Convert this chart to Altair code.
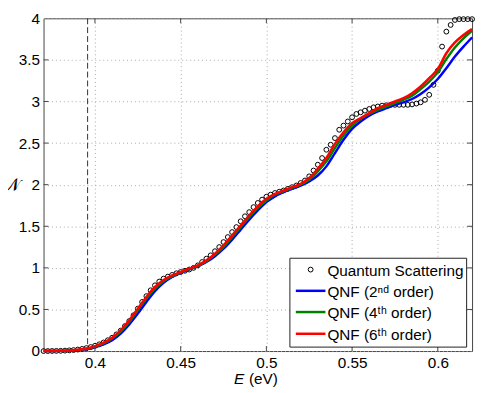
import altair as alt
import pandas as pd

# ---------------- data ----------------
# Quantum scattering points, E = 0.37 ... 0.62 step 0.0025
qs_E = [round(0.37 + 0.0025 * i, 4) for i in range(101)]
qs_N = [
    0.0, 0.0, 0.001, 0.002, 0.003, 0.005, 0.008, 0.012, 0.018, 0.026,
    0.036, 0.048, 0.063, 0.081, 0.103, 0.13, 0.16, 0.20, 0.245, 0.30,
    0.36, 0.43, 0.51, 0.59, 0.66, 0.73, 0.79, 0.835, 0.87, 0.895,
    0.915, 0.935, 0.95, 0.965, 0.98, 1.00, 1.03, 1.07, 1.11, 1.15,
    1.20, 1.25, 1.31, 1.37, 1.43, 1.49, 1.56, 1.62, 1.67, 1.73,
    1.78, 1.82, 1.855, 1.88, 1.90, 1.915, 1.93, 1.95, 1.97, 1.99,
    2.02, 2.05, 2.10, 2.17, 2.24, 2.32, 2.42, 2.48, 2.56, 2.66,
    2.71, 2.76, 2.81, 2.85, 2.87, 2.89, 2.91, 2.93, 2.94, 2.95,
    2.955, 2.96, 2.96, 2.96, 2.96, 2.96, 2.965, 2.975, 2.99, 3.02,
    3.08, 3.20, 3.37, 3.66, 3.84, 3.92, 3.98, 3.99, 3.99, 3.99,
    3.99,
]

# QNF curves, E = 0.37 ... 0.62 step 0.005
qnf_E = [round(0.37 + 0.005 * i, 3) for i in range(51)]
qnf2 = [0.0, 0.001, 0.002, 0.005, 0.011, 0.023, 0.045, 0.08, 0.13, 0.21,
        0.32, 0.45, 0.59, 0.72, 0.82, 0.89, 0.94, 0.98, 1.02, 1.07,
        1.14, 1.23, 1.34, 1.46, 1.58, 1.69, 1.79, 1.86, 1.91, 1.95,
        1.99, 2.04, 2.11, 2.22, 2.38, 2.54, 2.67, 2.76, 2.83, 2.88,
        2.92, 2.96, 2.99, 3.03, 3.09, 3.17, 3.27, 3.40, 3.54, 3.66,
        3.77]
qnf4 = [0.0, 0.001, 0.003, 0.006, 0.013, 0.027, 0.053, 0.092, 0.15, 0.235,
        0.35, 0.49, 0.63, 0.75, 0.84, 0.90, 0.945, 0.985, 1.025, 1.08,
        1.16, 1.25, 1.37, 1.49, 1.61, 1.72, 1.81, 1.88, 1.92, 1.96,
        2.00, 2.06, 2.16, 2.28, 2.44, 2.59, 2.71, 2.79, 2.85, 2.90,
        2.94, 2.98, 3.02, 3.07, 3.15, 3.24, 3.35, 3.51, 3.65, 3.76,
        3.85]
qnf6 = [0.0, 0.001, 0.003, 0.007, 0.015, 0.030, 0.058, 0.10, 0.16, 0.25,
        0.37, 0.51, 0.65, 0.77, 0.855, 0.91, 0.95, 0.99, 1.03, 1.09,
        1.17, 1.27, 1.39, 1.51, 1.63, 1.74, 1.83, 1.89, 1.93, 1.97,
        2.01, 2.08, 2.19, 2.32, 2.49, 2.63, 2.74, 2.80, 2.86, 2.92,
        2.96, 3.00, 3.04, 3.10, 3.18, 3.28, 3.39, 3.58, 3.71, 3.80,
        3.87]

threshold_E = [0.3957]
x_ticks = [0.4, 0.45, 0.5, 0.55, 0.6]
y_ticks = [0, 0.5, 1, 1.5, 2, 2.5, 3, 3.5, 4]
legend_labels = ["Quantum Scattering", "QNF (2\u207f\u1d48 order)",
                 "QNF (4\u1d57\u02b0 order)", "QNF (6\u1d57\u02b0 order)"]
line_colors = ["#0000ff", "#008000", "#ff0000"]

assert len(qs_E) == len(qs_N)
assert len(qnf_E) == len(qnf2) == len(qnf4) == len(qnf6)

# ---------------- chart ----------------
W, H = 434, 337
FONT = "Liberation Sans"

xs = alt.Scale(domain=[0.37, 0.62], nice=False, zero=False)
ys = alt.Scale(domain=[0, 4], nice=False, zero=False)

x_axis = alt.Axis(values=x_ticks, format=".2~f", title=None, grid=True,
                  gridDash=[1, 3], gridColor="#a8a8a8", gridWidth=1,
                  domain=False, ticks=False, labelPadding=5,
                  labelFontSize=15.5, labelFont=FONT, labelColor="#000")
y_axis = alt.Axis(values=y_ticks, format=".1~f", title=None, grid=True,
                  gridDash=[1, 3], gridColor="#a8a8a8", gridWidth=1,
                  domain=False, ticks=False, labelPadding=4,
                  labelFontSize=15.5, labelFont=FONT, labelColor="#000")


def X(field):
    return alt.X(field, type="quantitative", scale=xs, axis=x_axis)


def Y(field):
    return alt.Y(field, type="quantitative", scale=ys, axis=y_axis)


qs_df = pd.DataFrame({"E": qs_E, "N": qs_N})
curve_df = pd.DataFrame({"E": qnf_E, "q2": qnf2, "q4": qnf4, "q6": qnf6})

layers = []

# dashed threshold line
layers.append(
    alt.Chart(pd.DataFrame({"E": threshold_E})).mark_rule(
        color="#333333", strokeDash=[6, 3], strokeWidth=1
    ).encode(x=X("E"))
)

# quantum scattering circles
layers.append(
    alt.Chart(qs_df).mark_point(shape="circle", filled=False, color="#000",
                                size=24, strokeWidth=1, opacity=1)
    .encode(x=X("E"), y=Y("N"))
)

# QNF curves
for col, c in zip(["q2", "q4", "q6"], line_colors):
    layers.append(
        alt.Chart(curve_df).mark_line(color=c, strokeWidth=2.5,
                                      interpolate="monotone")
        .encode(x=X("E"), y=Y(col))
    )

# inward ticks on all four sides
xt = pd.DataFrame({"t": x_ticks})
yt = pd.DataFrame({"t": y_ticks[1:-1]})
TICK_COL = "#444"
layers.append(alt.Chart(xt).mark_rule(color=TICK_COL, strokeWidth=1).encode(
    x=X("t"), y=alt.value(H), y2=alt.value(H - 5)))
layers.append(alt.Chart(xt).mark_rule(color=TICK_COL, strokeWidth=1).encode(
    x=X("t"), y=alt.value(0), y2=alt.value(5)))
layers.append(alt.Chart(yt).mark_rule(color=TICK_COL, strokeWidth=1).encode(
    y=Y("t"), x=alt.value(0), x2=alt.value(5)))
layers.append(alt.Chart(yt).mark_rule(color=TICK_COL, strokeWidth=1).encode(
    y=Y("t"), x=alt.value(W), x2=alt.value(W - 5)))

# legend box
one = pd.DataFrame({"a": [0]})
LX0, LX1, LY0, LY1 = 249.5, 428.5, 243, 333
layers.append(alt.Chart(one).mark_rect(fill="white", stroke="#222",
                                       strokeWidth=1).encode(
    x=alt.value(LX0), x2=alt.value(LX1), y=alt.value(LY0), y2=alt.value(LY1)))
rows_y = [254.5, 276, 297.5, 319.5]
layers.append(alt.Chart(one).mark_point(shape="circle", filled=False,
                                        color="#000", size=24, strokeWidth=1,
                                        opacity=1).encode(
    x=alt.value(270.5), y=alt.value(rows_y[0])))
for i, c in enumerate(line_colors):
    layers.append(alt.Chart(one).mark_rule(color=c, strokeWidth=2.5).encode(
        x=alt.value(255.5), x2=alt.value(285.5), y=alt.value(rows_y[i + 1])))
for i, lab in enumerate(legend_labels):
    layers.append(alt.Chart(pd.DataFrame({"lab": [lab]})).mark_text(
        align="left", baseline="middle", font=FONT, fontSize=15.5,
        color="#000").encode(
        text="lab:N", x=alt.value(287.5), y=alt.value(rows_y[i] + 1)))

# axis titles
layers.append(alt.Chart(pd.DataFrame({"t": ["E"]})).mark_text(
    align="left", baseline="middle", font=FONT, fontSize=15.5, fontStyle="italic",
    color="#000").encode(text="t:N", x=alt.value(193), y=alt.value(365)))
layers.append(alt.Chart(pd.DataFrame({"t": ["(eV)"]})).mark_text(
    align="left", baseline="middle", font=FONT, fontSize=15.5,
    color="#000").encode(text="t:N", x=alt.value(208), y=alt.value(365)))
layers.append(alt.Chart(pd.DataFrame({"t": ["\U0001D4A9"]})).mark_text(
    align="left", baseline="middle", font="DejaVu Serif", fontSize=18,
    color="#000").encode(text="t:N", x=alt.value(-41), y=alt.value(170)))

chart = alt.layer(*layers).properties(
    width=W, height=H,
    padding={"left": 36, "top": 8, "right": 5, "bottom": 36},
    autosize=alt.AutoSizeParams(type="none"),
    background="white",
).configure_view(stroke="#444", strokeWidth=1)

chart.save("out.html", embed_options={"renderer": "svg", "actions": False})
